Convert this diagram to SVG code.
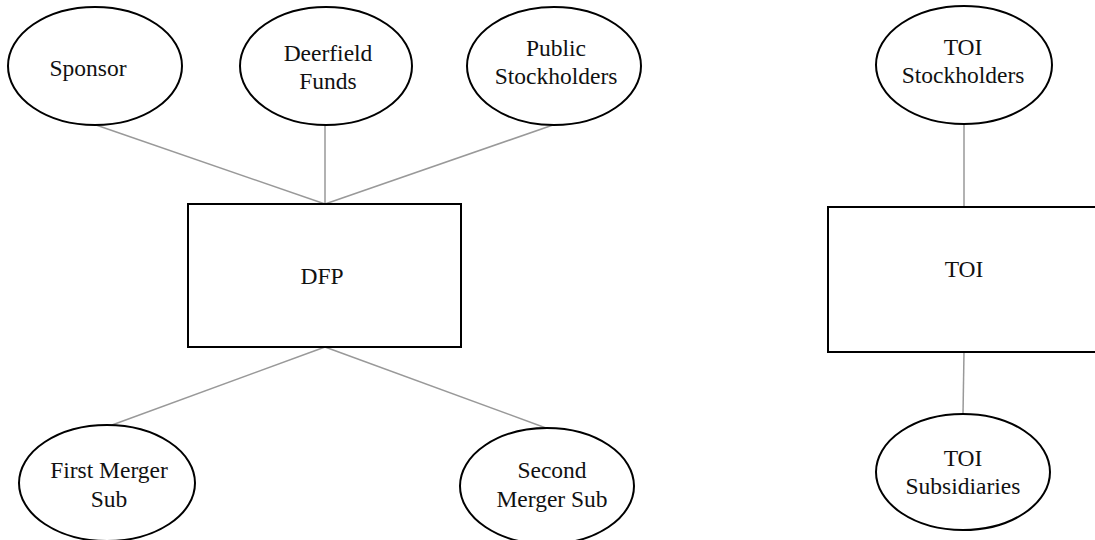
<svg xmlns="http://www.w3.org/2000/svg" width="1095" height="540" viewBox="0 0 1095 540">
<style>
.n{fill:#fff;stroke:#000;stroke-width:2}
.c line{stroke:#999;stroke-width:1.5}
text{font-family:'Liberation Serif','Times New Roman',serif;font-size:23.5px;fill:#111;text-anchor:middle}
</style>
<rect width="1095" height="540" fill="#fff"/>
<g class="c" id="connectors">
<line x1="96" y1="125" x2="325" y2="204"/>
<line x1="325" y1="125" x2="325" y2="204"/>
<line x1="553" y1="125" x2="325" y2="204"/>
<line x1="325" y1="347" x2="112" y2="425"/>
<line x1="325" y1="347" x2="546" y2="428"/>
<line x1="964" y1="124" x2="964" y2="207"/>
<line x1="964" y1="352" x2="963" y2="414"/>
</g>
<g id="sponsor"><ellipse class="n" cx="95" cy="66" rx="87" ry="59"/><text x="88" y="76">Sponsor</text></g>
<g id="deerfield"><ellipse class="n" cx="326" cy="66" rx="86" ry="59"/><text x="328" y="61">Deerfield</text><text x="328" y="89">Funds</text></g>
<g id="public"><ellipse class="n" cx="554" cy="66" rx="87" ry="59"/><text x="556" y="56">Public</text><text x="556" y="84">Stockholders</text></g>
<g id="dfp"><rect class="n" x="188" y="204" width="273" height="143"/><text x="322" y="284">DFP</text></g>
<g id="first"><ellipse class="n" cx="107" cy="483" rx="88" ry="58"/><text x="109" y="478">First Merger</text><text x="109" y="507">Sub</text></g>
<g id="second"><ellipse class="n" cx="547" cy="486" rx="87" ry="58"/><text x="552" y="478">Second</text><text x="552" y="507">Merger Sub</text></g>
<g id="toistock"><ellipse class="n" cx="964" cy="65" rx="88" ry="59"/><text x="963" y="55">TOI</text><text x="963" y="83">Stockholders</text></g>
<g id="toi"><rect class="n" x="828" y="207" width="280" height="145"/><text x="964" y="277">TOI</text></g>
<g id="toisub"><ellipse class="n" cx="963" cy="472" rx="87" ry="58"/><text x="963" y="466">TOI</text><text x="963" y="494">Subsidiaries</text></g>
</svg>
